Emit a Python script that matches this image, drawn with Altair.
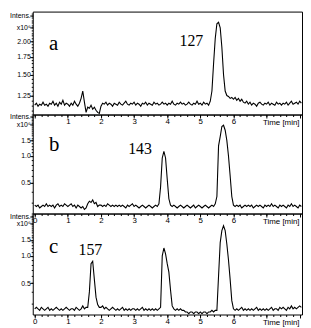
import altair as alt
import pandas as pd

# ---------------- data ----------------
TIME = [round(i * 0.05, 2) for i in range(162)]  # 0.00 ... 8.05 min

A_VALUES = [
    1.15, 1.17, 1.14, 1.16, 1.15, 1.18, 1.15, 1.16, 1.14, 1.17,
    1.16, 1.19, 1.15, 1.17, 1.14, 1.18, 1.16, 1.20, 1.15, 1.17,
    1.16, 1.14, 1.17, 1.15, 1.19, 1.16, 1.14, 1.17, 1.22, 1.30,
    1.18, 1.08, 1.13, 1.12, 1.15, 1.11, 1.13, 1.10, 1.08, 1.07,
    1.14, 1.17, 1.16, 1.18, 1.15, 1.17, 1.16, 1.14, 1.17, 1.16,
    1.15, 1.18, 1.16, 1.15, 1.17, 1.19, 1.16, 1.15, 1.17, 1.16,
    1.18, 1.15, 1.17, 1.16, 1.14, 1.17, 1.16, 1.18, 1.15, 1.17,
    1.16, 1.15, 1.18, 1.16, 1.17, 1.15, 1.16, 1.18, 1.16, 1.17,
    1.15, 1.17, 1.16, 1.19, 1.16, 1.15, 1.17, 1.16, 1.18, 1.16,
    1.17, 1.15, 1.16, 1.18, 1.16, 1.15, 1.17, 1.16, 1.19, 1.16,
    1.17, 1.15, 1.18, 1.16, 1.17, 1.15, 1.19, 1.30, 1.65, 2.05,
    2.33, 2.36, 2.25, 1.90, 1.50, 1.30, 1.25, 1.24, 1.22, 1.23,
    1.21, 1.23, 1.20, 1.22, 1.19, 1.21, 1.18, 1.17, 1.19, 1.16,
    1.18, 1.15, 1.17, 1.16, 1.14, 1.17, 1.18, 1.16, 1.15, 1.17,
    1.16, 1.18, 1.15, 1.17, 1.16, 1.15, 1.18, 1.16, 1.17, 1.15,
    1.17, 1.16, 1.18, 1.15, 1.17, 1.19, 1.16, 1.17, 1.18, 1.16,
    1.19, 1.17,
]

B_VALUES = [
    0.28, 0.27, 0.28, 0.26, 0.27, 0.28, 0.27, 0.29, 0.27, 0.28,
    0.27, 0.28, 0.26, 0.28, 0.29, 0.27, 0.28, 0.27, 0.29, 0.28,
    0.27, 0.28, 0.29, 0.27, 0.28, 0.26, 0.28, 0.27, 0.26, 0.27,
    0.25, 0.26, 0.29, 0.31, 0.30, 0.32, 0.29, 0.30, 0.27, 0.28,
    0.28, 0.27, 0.28, 0.27, 0.29, 0.28, 0.27, 0.28, 0.27, 0.28,
    0.27, 0.28, 0.27, 0.28, 0.27, 0.26, 0.28, 0.27, 0.28, 0.29,
    0.27, 0.28, 0.27, 0.26, 0.27, 0.28, 0.27, 0.26, 0.27, 0.28,
    0.27, 0.26, 0.27, 0.28, 0.27, 0.29, 0.45, 0.95, 1.13, 0.95,
    0.55, 0.33, 0.28, 0.27, 0.28, 0.27, 0.26, 0.27, 0.28, 0.27,
    0.26, 0.27, 0.28, 0.27, 0.26, 0.27, 0.28, 0.26, 0.27, 0.28,
    0.27, 0.26, 0.27, 0.28, 0.27, 0.26, 0.27, 0.28, 0.27, 0.29,
    0.35, 1.30, 1.65, 2.15, 2.22, 1.95, 1.50, 1.00, 0.60, 0.35,
    0.28, 0.27, 0.28, 0.27, 0.28, 0.26, 0.27, 0.28, 0.27, 0.28,
    0.27, 0.28, 0.26, 0.27, 0.28, 0.27, 0.28, 0.27, 0.26, 0.28,
    0.27, 0.28, 0.27, 0.29, 0.27, 0.28, 0.27, 0.26, 0.28, 0.27,
    0.28, 0.27, 0.26, 0.28, 0.27, 0.29, 0.27, 0.28, 0.27, 0.26,
    0.28, 0.27,
]

C_VALUES = [
    0.26, 0.27, 0.26, 0.25, 0.27, 0.26, 0.25, 0.26, 0.27, 0.25,
    0.26, 0.25, 0.26, 0.27, 0.26, 0.25, 0.26, 0.25, 0.26, 0.27,
    0.26, 0.25, 0.26, 0.26, 0.25, 0.27, 0.26, 0.25, 0.26, 0.28,
    0.26, 0.27, 0.27, 0.40, 0.82, 0.87, 0.55, 0.35, 0.29, 0.27,
    0.27, 0.28, 0.26, 0.27, 0.26, 0.25, 0.26, 0.27, 0.26, 0.25,
    0.26, 0.25, 0.26, 0.27, 0.25, 0.26, 0.25, 0.26, 0.25, 0.26,
    0.26, 0.25, 0.26, 0.25, 0.26, 0.27, 0.25, 0.26, 0.25, 0.26,
    0.25, 0.26, 0.25, 0.26, 0.25, 0.26, 0.27, 1.00, 1.22, 1.05,
    0.82, 0.66, 0.42, 0.28, 0.26, 0.25, 0.26, 0.25, 0.26, 0.25,
    0.25, 0.24, 0.24, 0.23, 0.24, 0.24, 0.23, 0.24, 0.24, 0.23,
    0.24, 0.23, 0.24, 0.24, 0.23, 0.24, 0.24, 0.25, 0.24, 0.25,
    0.25, 0.60, 1.40, 1.90, 2.15, 1.90, 1.35, 0.90, 0.55, 0.32,
    0.26, 0.25, 0.26, 0.25, 0.26, 0.27, 0.25, 0.26, 0.25, 0.26,
    0.25, 0.26, 0.25, 0.26, 0.27, 0.25, 0.26, 0.25, 0.26, 0.25,
    0.26, 0.25, 0.26, 0.27, 0.25, 0.26, 0.26, 0.25, 0.27, 0.26,
    0.27, 0.26, 0.25, 0.27, 0.26, 0.28, 0.26, 0.27, 0.26, 0.27,
    0.28, 0.27,
]

X_DOMAIN = [-0.06, 8.07]
X_MAJOR = [0, 1, 2, 3, 4, 5, 6, 7, 8]
X_MINOR = [round(i * 0.2, 1) for i in range(41)]

# y axis: numeric labels plus the "Intens." / "x10⁶" header ticks
A_DOMAIN = [1.06, 2.59]
A_LABELED = [1.25, 1.50, 1.75, 2.00]
A_HEAD = [2.50, 2.25]          # ticks carrying "Intens." and "x10⁶"
A_MINOR = [round(1.10 + i * 0.05, 2) for i in range(30)]

BC_DOMAIN = [0.225, 2.93]
BC_LABELED = [0.5, 1.0, 1.5]
BC_HEAD = [2.75, 2.25]
BC_MINOR = [round(0.3 + i * 0.1, 1) for i in range(27)]

HEAD_TEXT = ["Intens.", "x10⁶"]

# annotations: (text, time, intensity)
A_NOTES = [("a", 0.57, 1.95), ("127", 4.73, 2.01)]
B_NOTES = [("b", 0.59, 1.34), ("143", 3.18, 1.21)]
C_NOTES = [("c", 0.57, 1.25), ("157", 1.68, 1.17)]

W = 272
FONT = "Liberation Sans"
SERIF = "Liberation Serif"


def panel(values, ydomain, height, labeled, head, yminor, yfmt, xlabmin, notes):
    df = pd.DataFrame({"time": TIME, "intensity": values})
    xs = alt.Scale(domain=X_DOMAIN, nice=False, zero=False)
    ys = alt.Scale(type="log", domain=ydomain, nice=False)

    y_expr = (
        f"abs(datum.value - {head[0]}) < 0.001 ? '{HEAD_TEXT[0]}' : "
        f"abs(datum.value - {head[1]}) < 0.001 ? '{HEAD_TEXT[1]}' : datum.label"
    )

    x_major = alt.Axis(
        orient="bottom", values=X_MAJOR,
        labelExpr=f"datum.value >= {xlabmin} && datum.value <= 6 ? datum.label : ''",
        tickSize=3.5, tickColor="black", tickWidth=1,
        labelFont=FONT, labelFontSize=8, labelColor="black", labelPadding=0,
        labelFlush=False, domain=False, grid=False,
        title="Time [min]", titleX=W - 3, titleY=8.5, titleAlign="right",
        titleBaseline="middle", titleFont=FONT, titleFontSize=8,
        titleFontWeight="normal", titleColor="black",
    )
    y_major = alt.Axis(
        orient="left", values=labeled + head, format=yfmt, labelExpr=y_expr,
        tickSize=3, tickColor="black", tickWidth=1,
        labelFont=FONT, labelFontSize=7, labelColor="black", labelPadding=-0.5,
        labelOverlap=False, labelBound=False,
        domain=False, grid=False, title=None,
    )
    x_minor = alt.Axis(orient="bottom", values=X_MINOR, labels=False,
                       tickSize=2, tickColor="black", domain=False,
                       grid=False, title=None)
    y_minor = alt.Axis(orient="left", values=yminor, labels=False,
                       tickSize=1.5, tickColor="black", domain=False,
                       grid=False, title=None)

    line = alt.Chart(df).mark_line(color="black", strokeWidth=1.1, clip=True).encode(
        x=alt.X("time:Q", scale=xs, axis=x_major),
        y=alt.Y("intensity:Q", scale=ys, axis=y_major),
    )
    ghost = alt.Chart(df).mark_line(opacity=0).encode(
        x=alt.X("time:Q", scale=xs, axis=x_minor),
        y=alt.Y("intensity:Q", scale=ys, axis=y_minor),
    )
    letter_df = pd.DataFrame([notes[0]], columns=["label", "time", "intensity"])
    number_df = pd.DataFrame([notes[1]], columns=["label", "time", "intensity"])
    letter = alt.Chart(letter_df).mark_text(
        font=SERIF, fontSize=21, color="black", baseline="middle", align="center"
    ).encode(
        x=alt.X("time:Q", scale=xs, axis=None),
        y=alt.Y("intensity:Q", scale=ys, axis=None),
        text="label:N",
    )
    number = alt.Chart(number_df).mark_text(
        font=SERIF, fontSize=16, color="black", baseline="middle", align="center"
    ).encode(
        x=alt.X("time:Q", scale=xs, axis=None),
        y=alt.Y("intensity:Q", scale=ys, axis=None),
        text="label:N",
    )
    return (
        alt.layer(line, ghost, letter, number)
        .resolve_axis(x="independent", y="independent")
        .properties(width=W, height=height)
    )


pa = panel(A_VALUES, A_DOMAIN, 104, A_LABELED, A_HEAD, A_MINOR, ".2f", 1, A_NOTES)
pb = panel(B_VALUES, BC_DOMAIN, 100, BC_LABELED, BC_HEAD, BC_MINOR, ".1f", 0, B_NOTES)
pc = panel(C_VALUES, BC_DOMAIN, 102, BC_LABELED, BC_HEAD, BC_MINOR, ".1f", 0, C_NOTES)

chart = (
    alt.vconcat(pa, pb, pc, spacing=0, bounds="flush")
    .properties(padding={"left": 0, "top": 1, "right": 0, "bottom": 0})
    .configure_view(stroke="black", strokeWidth=1)
)

chart.save("out.html", embed_options={"renderer": "svg", "actions": False})
